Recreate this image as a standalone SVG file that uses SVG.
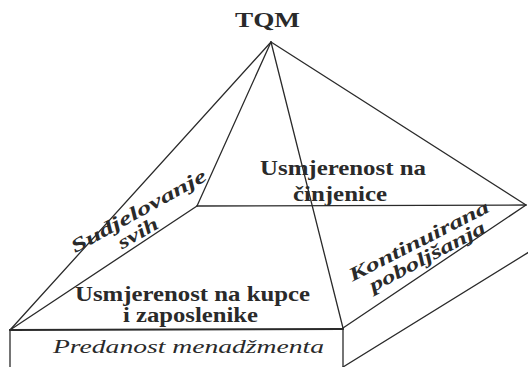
<svg xmlns="http://www.w3.org/2000/svg" width="528" height="367" viewBox="0 0 528 367">
<style>
.ln{stroke:#2a2a2a;stroke-width:1.3;fill:none;stroke-linecap:round;stroke-linejoin:round}
.thick{stroke-width:2.2}
.t{font-family:"Liberation Serif","Times New Roman",serif;fill:#2a2a2a;text-anchor:middle}
.b{font-weight:bold}
.i{font-style:italic}
</style>
<rect width="528" height="367" fill="#ffffff"/>
<g id="edges">
<line class="ln" x1="271" y1="42" x2="10" y2="330"/>
<line class="ln" x1="271" y1="42" x2="197" y2="206"/>
<line class="ln" x1="271" y1="42" x2="343" y2="328"/>
<line class="ln" x1="271" y1="42" x2="526" y2="205"/>
<line class="ln" x1="197" y1="206" x2="526" y2="205"/>
<line class="ln" x1="197" y1="206" x2="10" y2="330"/>
<line class="ln thick" x1="10" y1="330" x2="343" y2="329"/>
<line class="ln" x1="343" y1="328" x2="526" y2="205"/>
<line class="ln" x1="10" y1="330" x2="10" y2="368"/>
<line class="ln" x1="343" y1="328" x2="343" y2="368"/>
<line class="ln" x1="343" y1="367" x2="529" y2="252"/>
</g>
<g id="apex"><text class="t b" x="267.5" y="27" font-size="20" textLength="65" lengthAdjust="spacingAndGlyphs">TQM</text></g>
<g id="back-face">
<text class="t b" x="343" y="174.5" font-size="21" textLength="166" lengthAdjust="spacingAndGlyphs">Usmjerenost na</text>
<text class="t b" x="340" y="201" font-size="21" textLength="94" lengthAdjust="spacingAndGlyphs">činjenice</text>
</g>
<g id="left-face">
<text class="t b i" x="141.5" y="216.5" font-size="19" textLength="152" lengthAdjust="spacingAndGlyphs" transform="rotate(-29 141.5 216.5)">Sudjelovanje</text>
<text class="t b i" x="141" y="238.5" font-size="19" textLength="44" lengthAdjust="spacingAndGlyphs" transform="rotate(-30 141 238.5)">svih</text>
</g>
<g id="right-face">
<text class="t b i" x="421.5" y="246.5" font-size="19" textLength="155" lengthAdjust="spacingAndGlyphs" transform="rotate(-27 421.5 246.5)">Kontinuirana</text>
<text class="t b i" x="430" y="262" font-size="19" textLength="129" lengthAdjust="spacingAndGlyphs" transform="rotate(-28 430 262)">poboljšanja</text>
</g>
<g id="front-face">
<text class="t b" x="192.5" y="300.5" font-size="20.5" textLength="235" lengthAdjust="spacingAndGlyphs">Usmjerenost na kupce</text>
<text class="t b" x="190.5" y="321.5" font-size="20.5" textLength="135" lengthAdjust="spacingAndGlyphs">i zaposlenike</text>
</g>
<g id="base">
<text class="t i" x="188.5" y="353" font-size="19.5" textLength="271" lengthAdjust="spacingAndGlyphs">Predanost menadžmenta</text>
</g>
</svg>
